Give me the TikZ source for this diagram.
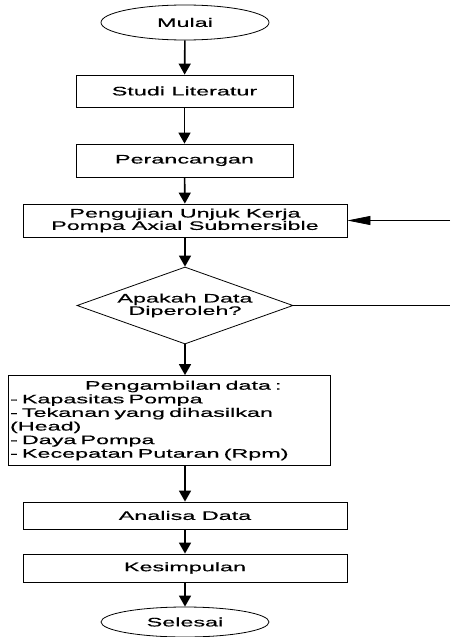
\documentclass[tikz,border=0pt]{standalone}
\usepackage{fontspec}
\setmainfont{Liberation Sans}[FakeStretch=1.9, FakeBold=0.5]
\usetikzlibrary{shapes.geometric,arrows.meta}
\tikzset{
    kotak/.style={draw, line width=0.8pt, rectangle, inner sep=0pt, align=center},
    ujung/.style={draw, line width=0.8pt, ellipse, inner sep=0pt, minimum width=168pt},
    putus/.style={draw, line width=0.8pt, diamond, aspect=2.8, inner sep=0pt, align=center},
    panah/.style={line width=1.6pt, -{Stealth[inset=0pt,length=11pt,width=12pt]}},
    balik/.style={line width=0.8pt, -{Stealth[inset=0pt,length=23pt,width=9pt]}},
}
\begin{document}
\begin{tikzpicture}[x=1pt, y=-1pt, font=\fontsize{12.3}{12.4}\selectfont]
        \useasboundingbox (0,0) rectangle (450,637);
        \node[ujung, minimum height=35pt] (mulai) at (185,22.5) {Mulai};
        \node[kotak, minimum width=217pt, minimum height=32pt] (studi) at (184.5,91) {Studi Literatur};
        \node[kotak, minimum width=217pt, minimum height=33pt] (rancang) at (184.5,160.5) {Perancangan};
        \node[kotak, minimum width=324pt, minimum height=33pt] (uji) at (185,220.5)
            {Pengujian Unjuk Kerja\\Pompa Axial Submersible};
        \node[putus, minimum width=216pt, minimum height=77pt] (cek) at (185,305.5)
            {Apakah Data\\Diperoleh?};
        \node[kotak, minimum width=322pt, minimum height=90pt, text width=318pt, align=left,
            font=\fontsize{12.3}{13.6}\selectfont] (ambil) at (169,420.5)
            {\hspace*{75pt}Pengambilan data :\\
            - Kapasitas Pompa\\
            - Tekanan yang dihasilkan\\
            (Head)\\
            - Daya Pompa\\
            - Kecepatan Putaran (Rpm)};
        \node[kotak, minimum width=324pt, minimum height=27pt] (analisa) at (185,515.5) {Analisa Data};
        \node[kotak, minimum width=324pt, minimum height=28pt] (simpul) at (185,568) {Kesimpulan};
        \node[ujung, minimum height=30pt] (selesai) at (185,622) {Selesai};
        \coordinate (ujiR) at (450,220.5);
        \coordinate (cekR) at (450,305.5);
        \draw[panah] (mulai) -- (studi);
        \draw[panah] (studi) -- (rancang);
        \draw[panah] (rancang) -- (uji);
        \draw[panah] (uji) -- (cek);
        \draw[panah] (cek.south) -- (cek.south |- ambil.north);
        \draw[panah] (analisa.north |- ambil.south) -- (analisa);
        \draw[panah] (analisa) -- (simpul);
        \draw[panah] (simpul) -- (selesai);
        \draw[line width=0.8pt] (cek.east) -- (cekR);
        \draw[balik] (ujiR) -- (uji.east);
    \end{tikzpicture}
\end{document}
